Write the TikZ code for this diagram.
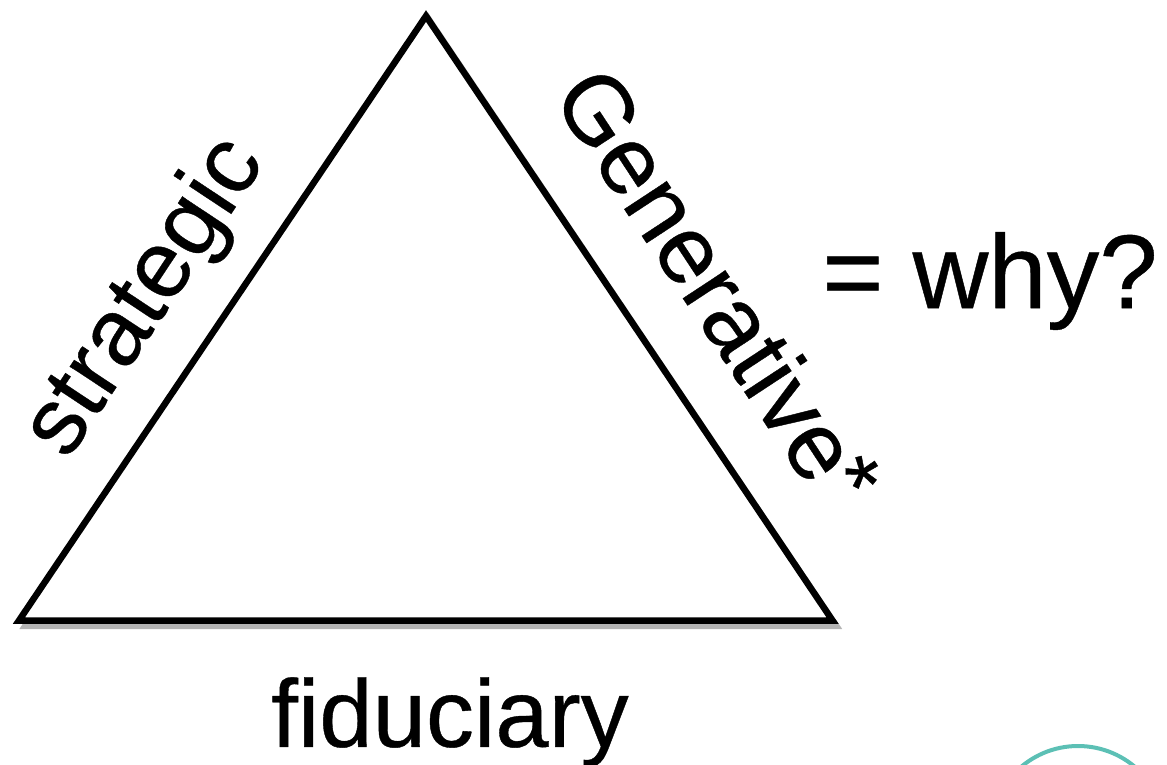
\documentclass[tikz,border=0pt]{standalone}
\usepackage{fontspec}
\setmainfont[FakeBold=0.4]{Liberation Sans}
\definecolor{teal1}{HTML}{5CC0B5}
\definecolor{shadowgray}{HTML}{B4B4B4}
\tikzset{
  tri/.style={draw=black,line width=6.5pt,line join=miter,fill=white},
  shade/.style={draw=shadowgray,line width=5pt,line join=miter},
  big/.style={inner sep=0pt,font=\fontsize{96}{96}\selectfont,text=black},
}
\begin{document}
\begin{tikzpicture}[x=1pt,y=-1pt]
\useasboundingbox (0,0) rectangle (1167,765);
\coordinate (A) at (426,16);
\coordinate (B) at (19,620.5);
\coordinate (C) at (832.5,620.5);
\coordinate (As) at (428,17);
\coordinate (Bs) at (24,626.5);
\coordinate (Cs) at (837.5,626.5);
\draw[shade] (As) -- (Bs) -- (Cs) -- cycle;
\draw[tri] (A) -- (B) -- (C) -- cycle;
\node[big,rotate=-56.7] (gen) at (708,274) {Generative};
\node[big,rotate=-57.5,font=\fontsize{90}{90}\selectfont] (star) at (850,480) {*};
\node[big,rotate=56.5,font=\fontsize{95}{95}\selectfont] (str) at (146,298) {strategic};
\node[big,font=\fontsize{105}{105}\selectfont] (why) at (990,281) {= why?};
\node[big] (fid) at (450,722) {fiduciary};
\draw[teal1,line width=4pt] (1078,834) circle (88);
\end{tikzpicture}
\end{document}
